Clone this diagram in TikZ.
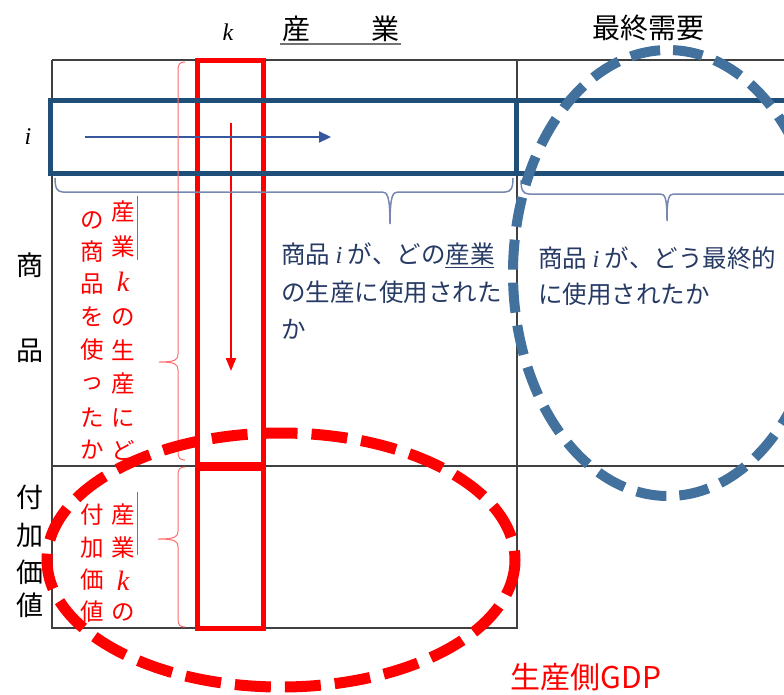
\documentclass[tikz,border=0pt]{standalone}
\usepackage{fontspec}
\setmainfont{Noto Sans CJK JP}
\newfontfamily\serifit{Liberation Serif}
\newcommand{\itl}[1]{{\serifit\itshape #1}}
\newcommand{\bigk}{{\fontsize{28}{30}\selectfont\serifit\itshape k}}
\usetikzlibrary{arrows.meta}
\definecolor{dblue}{RGB}{31,78,121}
\definecolor{ablue}{RGB}{55,88,158}
\definecolor{eblue}{RGB}{65,113,156}
\definecolor{brblue}{RGB}{120,135,175}
\definecolor{tblue}{RGB}{38,58,100}
\definecolor{lred}{RGB}{255,110,110}
\begin{document}
\begin{tikzpicture}[x=1pt,y=-1pt,
  tline/.style={draw=black!75, line width=1.5pt},
  hdr/.style={inner sep=0pt, font=\fontsize{28}{34}\selectfont},
  big/.style={inner sep=0pt, font=\fontsize{27}{34}\selectfont},
  rtxt/.style={inner sep=0pt, text=red, font=\fontsize{23.5}{30}\selectfont},
  btxt/.style={inner sep=0pt, anchor=west, text=tblue, text height=21pt, text depth=4pt, font=\fontsize{24.5}{30}\selectfont},
  rbrace/.style={draw=lred, line width=1pt},
  bbrace/.style={draw=brblue, line width=1.5pt},
  bell/.style={draw=eblue, line width=10pt, dash pattern=on 30pt off 13pt},
  rell/.style={draw=red, line width=11pt, dash pattern=on 36pt off 14pt}]
\useasboundingbox (0,0) rectangle (784,694);
\clip (0,0) rectangle (784,694);
% table
\draw[tline] (52,60) -- (800,60);
\draw[tline] (52,60) -- (52,628) -- (517,628) -- (517,60);
\draw[tline] (52,466) -- (800,466);
% headers
\node[inner sep=0pt, font=\fontsize{24}{28}\selectfont] (hk) at (228,32) {\itl{k}};
\node[hdr] (hsan) at (296,29) {産};
\node[hdr] (hgyo) at (385,29) {業};
\draw[black!55, line width=1.2pt] (280,44) -- (401,44);
\node[hdr] (hfd) at (648,28) {最終需要};
% row labels
\node[inner sep=0pt, font=\fontsize{24}{28}\selectfont] (ri) at (28,137) {\itl{i}};
\node[big] (rsho) at (30,265) {商};
\node[big] (rhin) at (30,351) {品};
\foreach \ch/\yy [count=\n] in {付/497,加/535,価/572,値/605}
  \node[big] (fk\n) at (30,\yy) {\ch};
% red rectangles
\draw[red, line width=5pt] (197,60) rectangle (263,464);
\draw[red, line width=5pt] (197,468) rectangle (263,628);
% red arrow
\coordinate (ra0) at (231,123);
\coordinate (ra1) at (231,371);
\draw[red, line width=2pt, -{Triangle[length=13pt,width=10pt]}] (ra0) -- (ra1);
% blue rectangle
\draw[dblue, line width=5pt] (50,100) rectangle (800,173);
\draw[dblue, line width=5pt] (516,100) -- (516,173);
% blue arrow
\coordinate (ba0) at (85,137);
\coordinate (ba1) at (331,137);
\draw[ablue, line width=2.2pt, -{Triangle[length=12pt,width=11pt]}] (ba0) -- (ba1);
% red braces
\draw[rbrace] (185,62) .. controls (180,62) and (178,64) .. (178,70) -- (178,354)
  .. controls (178,360) and (175,362) .. (159,362)
  .. controls (175,362) and (178,364) .. (178,370) -- (178,452)
  .. controls (178,458) and (180,460) .. (185,460);
\draw[rbrace] (185,467) .. controls (180,467) and (178,469) .. (178,475) -- (178,531)
  .. controls (178,537) and (175,539) .. (158,539)
  .. controls (175,539) and (178,541) .. (178,547) -- (178,619)
  .. controls (178,625) and (180,627) .. (185,627);
% blue braces
\draw[bbrace] (55,178) .. controls (55,188) and (57,192) .. (63,192) -- (382,192)
  .. controls (387,192) and (390,195) .. (390,224)
  .. controls (390,195) and (393,192) .. (398,192) -- (505,192)
  .. controls (511,192) and (513,188) .. (513,178);
\draw[bbrace] (521,180) .. controls (521,190) and (523,194) .. (529,194) -- (660,194)
  .. controls (665,194) and (667,197) .. (667,221)
  .. controls (667,197) and (669,194) .. (674,194) -- (800,194);
% red vertical texts
\foreach \ch/\yy [count=\n] in {産/212,業/247,{\bigk}/282,の/317,生/350,産/384,に/418,ど/450}
  \node[rtxt] (rc\n) at (123,\yy) {\ch};
\foreach \ch/\yy [count=\n] in {の/220,商/252,品/284,を/317,使/350,っ/384,た/418,か/450}
  \node[rtxt] (lc\n) at (92,\yy) {\ch};
\foreach \ch/\yy [count=\n] in {産/515,業/548,{\bigk}/581,の/612}
  \node[rtxt] (rv\n) at (123,\yy) {\ch};
\foreach \ch/\yy [count=\n] in {付/515,加/548,価/580,値/612}
  \node[rtxt] (lv\n) at (92,\yy) {\ch};
\draw[red!75, line width=1pt] (137,196) -- (137,260);
\draw[red!75, line width=1pt] (137,492) -- (137,555);
% blue texts
\node[btxt] (bt1) at (281,255) {商品 \itl{i} が、どの\underline{産業}};
\node[btxt] (bt2) at (281,293) {の生産に使用された};
\node[btxt] (bt3) at (281,330) {か};
\node[btxt] (bt4) at (538,259) {商品 \itl{i} が、どう最終的};
\node[btxt] (bt5) at (538,295) {に使用されたか};
% ellipses
\draw[bell] (668,273) ellipse [x radius=155, y radius=223];
\draw[rell] (281,560) ellipse [x radius=234, y radius=127];
% GDP label
\node[inner sep=0pt, text=red, font=\fontsize{30}{34}\selectfont] (gdp) at (586,677) {生産側GDP};
\end{tikzpicture}
\end{document}
